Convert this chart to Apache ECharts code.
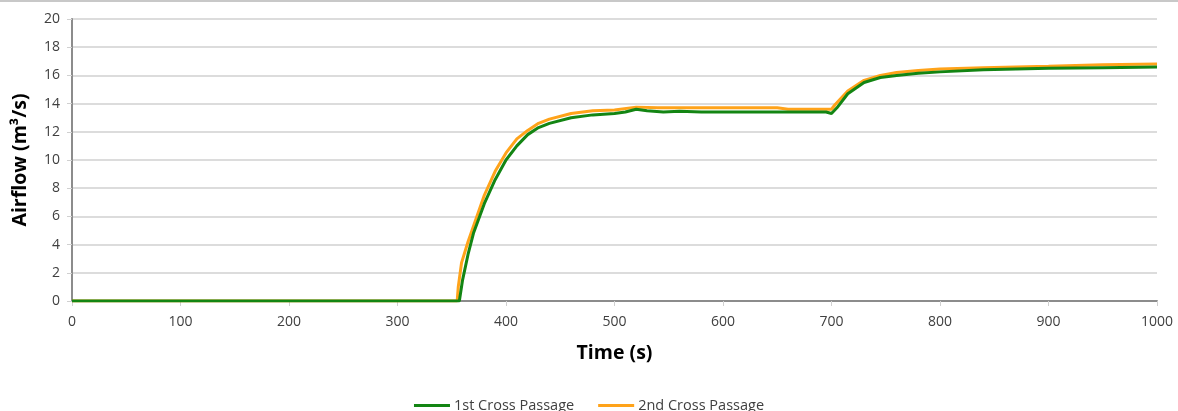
<!DOCTYPE html>
<html>
<head>
<meta charset="utf-8">
<script src="https://cdn.jsdelivr.net/npm/echarts@6/dist/echarts.min.js"></script>
<style>
html,body{margin:0;padding:0;background:#fff;}
#main{width:1178px;height:411px;}
</style>
</head>
<body>
<div id="main"></div>
<script>
var seriesNames = ['1st Cross Passage', '2nd Cross Passage'];
var xTicks = [0, 100, 200, 300, 400, 500, 600, 700, 800, 900, 1000];
var yTicks = [0, 2, 4, 6, 8, 10, 12, 14, 16, 18, 20];

var time1 = [0, 355, 357, 360, 365, 370, 380, 390, 400, 410, 420, 430, 440, 460, 480, 500, 510, 520, 530, 545, 560, 580, 600, 650, 695, 700, 705, 715, 730, 745, 760, 780, 800, 840, 900, 950, 1000];
var flow1 = [0, 0, 0, 1.5, 3.3, 4.8, 6.9, 8.6, 10.0, 11.0, 11.8, 12.3, 12.6, 13.0, 13.2, 13.3, 13.4, 13.6, 13.5, 13.4, 13.45, 13.4, 13.4, 13.4, 13.4, 13.3, 13.7, 14.7, 15.5, 15.85, 16.0, 16.15, 16.25, 16.4, 16.5, 16.55, 16.6];

var time2 = [0, 355, 356, 359, 365, 370, 380, 390, 400, 410, 420, 430, 440, 460, 480, 500, 520, 540, 600, 650, 660, 700, 703, 715, 730, 745, 760, 780, 800, 840, 900, 950, 1000];
var flow2 = [0, 0, 1.0, 2.7, 4.2, 5.3, 7.5, 9.2, 10.5, 11.5, 12.1, 12.6, 12.9, 13.3, 13.5, 13.55, 13.75, 13.7, 13.7, 13.7, 13.6, 13.6, 13.9, 14.9, 15.65, 16.0, 16.2, 16.35, 16.45, 16.55, 16.65, 16.75, 16.8];

function pairs(t, v) { return t.map(function (x, i) { return [x, v[i]]; }); }

var FONT = 'Open Sans';
var chart = echarts.init(document.getElementById('main'), null, {renderer: 'canvas'});
chart.setOption({
  animation: false,
  backgroundColor: '#ffffff',
  textStyle: {fontFamily: FONT},
  graphic: [{
    type: 'rect', shape: {x: 0, y: 0, width: 1178, height: 2},
    style: {fill: '#c8c8c8'}, silent: true
  }],
  legend: {
    bottom: -7, left: 'center',
    itemWidth: 36, itemHeight: 3, itemGap: 24,
    icon: 'rect',
    textStyle: {fontFamily: FONT, fontSize: 14.5, color: '#404040', padding: [0, 0, 0, -1]},
    data: seriesNames
  },
  grid: {left: 72, right: 21, top: 19, bottom: 110, containLabel: false},
  xAxis: [{
    type: 'value', min: xTicks[0], max: xTicks[xTicks.length - 1], interval: 100,
    name: 'Time (s)', nameLocation: 'middle', nameGap: 42,
    nameTextStyle: {fontFamily: FONT, fontSize: 19.5, fontWeight: 'bold', color: '#000'},
    axisLine: {show: true, lineStyle: {color: '#d0d0d0', width: 1}},
    axisTick: {show: true, length: 5, lineStyle: {color: '#d0d0d0'}},
    axisLabel: {fontSize: 14, color: '#404040', margin: 14, formatter: function (v) { return String(v); }},
    splitLine: {show: false}
  }, {
    type: 'value', position: 'top', min: 0, max: 1000,
    axisLine: {show: true, lineStyle: {color: '#8c8c8c', width: 2}},
    axisTick: {show: false}, axisLabel: {show: false}, splitLine: {show: false}
  }],
  yAxis: [{
    type: 'value', min: yTicks[0], max: yTicks[yTicks.length - 1], interval: 2,
    name: 'Airflow (m³/s)', nameLocation: 'middle', nameGap: 42,
    nameTextStyle: {fontFamily: FONT, fontSize: 19.5, fontWeight: 'bold', color: '#000'},
    axisLine: {show: true, lineStyle: {color: '#d0d0d0', width: 1}},
    axisTick: {show: true, length: 5, lineStyle: {color: '#d0d0d0'}},
    axisLabel: {fontSize: 14, color: '#404040', margin: 12},
    splitLine: {show: true, lineStyle: {color: '#d0d0d0', width: 1.5}}
  }, {
    type: 'value', position: 'right', min: 0, max: 20,
    axisLine: {show: true, lineStyle: {color: '#8c8c8c', width: 2}},
    axisTick: {show: false}, axisLabel: {show: false}, splitLine: {show: false}
  }],
  series: [{
    name: seriesNames[0], type: 'line', showSymbol: false, symbol: 'none',
    color: '#138513', lineStyle: {width: 3, color: '#138513'},
    data: pairs(time1, flow1), z: 3
  }, {
    name: seriesNames[1], type: 'line', showSymbol: false, symbol: 'none',
    color: '#ffa31a', lineStyle: {width: 3, color: '#ffa31a'},
    data: pairs(time2, flow2), z: 2
  }]
});
</script>
</body>
</html>
